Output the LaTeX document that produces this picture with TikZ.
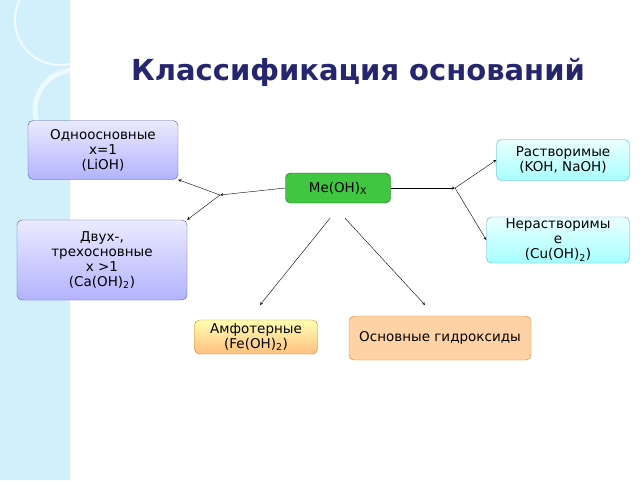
\documentclass[tikz,border=0pt]{standalone}
\usepackage{fontspec}
\setmainfont{DejaVu Sans}
\usetikzlibrary{positioning}

\begin{document}
\begin{tikzpicture}[
        x=1pt,y=-1pt,
        box/.style={draw=#1,rounded corners=5pt,align=center,font=\fontsize{13.5}{15}\selectfont,inner sep=2pt},
        lav/.style={box=blue!30!gray,top color=blue!8,bottom color=blue!30},
        sky/.style={box=cyan!60!gray,top color=cyan!8,bottom color=cyan!35},
        peach/.style={box=orange!70!gray,fill=orange!35},
        link/.style={->,>=stealth,thin}
    ]
    \useasboundingbox (0,0) rectangle (640,480);
    % left stripe
    \fill[cyan!18] (0,0) rectangle (70,480);
    \draw[white,line width=2pt,opacity=0.7] (60,20) circle (45);
    \draw[white,line width=5pt,opacity=0.6] (75,110) circle (40);
    \node[font=\bfseries\fontsize{29}{31}\selectfont,text=black!60!blue!70!gray] (title) at (358,72) {Классификация оснований};
    \node[box=green!40!black,fill=green!70!black!75,minimum width=105pt,minimum height=30pt] (me) at (338,188) {Me(OH)\textsubscript{X}};
    \node[lav,minimum width=150pt,minimum height=59pt] (one) at (103,150) {Одноосновные\\x=1\\(LiOH)};
    \node[lav,minimum width=170pt,minimum height=80pt] (two) at (102,260) {Двух-,\\трехосновные\\x >1\\(Ca(OH)\textsubscript{2})};
    \node[sky,minimum width=133pt,minimum height=41pt] (sol) at (563,160) {Растворимые\\(KOH, NaOH)};
    \node[sky,minimum width=143pt,minimum height=42pt] (insol) at (558,240) {Нерастворимы\\е\\(Cu(OH)\textsubscript{2})};
    \node[box=orange!70!gray,top color=yellow!30,bottom color=orange!50,minimum width=123pt,minimum height=34pt] (amph) at (256,337) {Амфотерные\\(Fe(OH)\textsubscript{2})};
    \node[peach,minimum width=182pt,minimum height=44pt] (basic) at (440,338) {Основные гидроксиды};
    \coordinate (lsplit) at (220,195);
    \coordinate (rsplit) at (455,188);
    \draw[link] (me.west) -- (lsplit);
    \draw[link] (lsplit) -- (one.south east);
    \draw[link] (lsplit) -- (two.north east);
    \draw[link] (me.east) -- (rsplit);
    \draw[link] (rsplit) -- (sol.west);
    \draw[link] (rsplit) -- (insol.west);
    \draw[link] ([xshift=-8pt,yshift=-15pt]me.south) -- (260,305);
    \draw[link] ([xshift=7pt,yshift=-15pt]me.south) -- (425,305);
\end{tikzpicture}
\end{document}
